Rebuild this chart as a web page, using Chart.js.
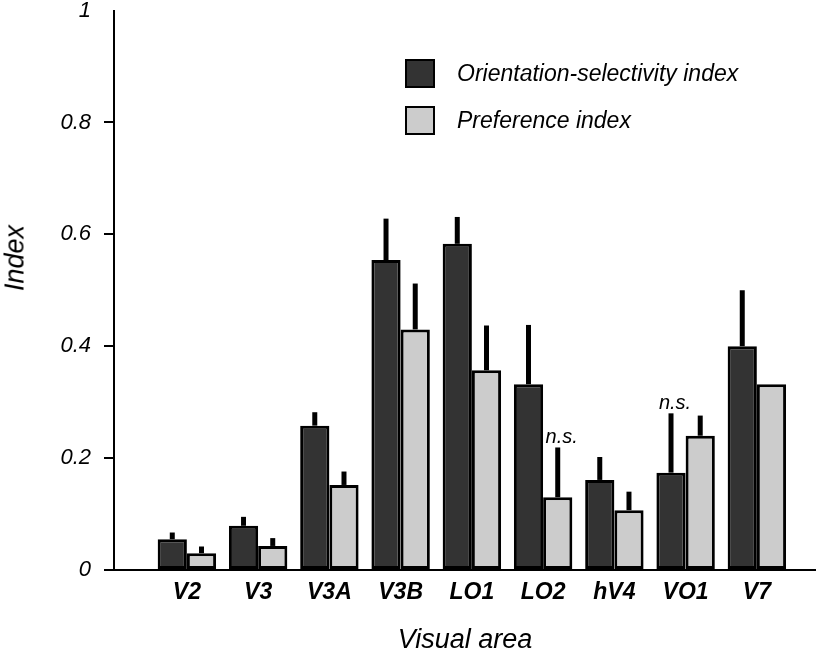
<!DOCTYPE html>
<html>
<head>
<meta charset="utf-8">
<script src="https://cdn.jsdelivr.net/npm/chart.js@4.4.0/dist/chart.umd.min.js"></script>
<style>
  html, body { margin: 0; padding: 0; background: #fff; }
  #wrap { position: relative; width: 816px; height: 654px; }
  #c { position: absolute; left: 0; top: 0; }
  #legend { position: absolute; left: 405px; top: 59px; font-family: "Liberation Sans", Arial, Helvetica, sans-serif; font-style: italic; font-size: 23px; color: #000; }
  .item { display: flex; align-items: center; height: 29px; margin-bottom: 18px; white-space: nowrap; }
  .sw { box-sizing: border-box; width: 30px; height: 29px; border: 2px solid #000; margin-right: 22px; flex: none; }
  #ytitle { position: absolute; left: 15px; top: 258px; transform: translate(-50%, -50%) rotate(-90deg); font-family: "Liberation Sans", Arial, Helvetica, sans-serif; font-style: italic; font-size: 27px; line-height: 1; color: #000; white-space: nowrap; }
</style>
</head>
<body>
<div id="wrap">
  <canvas id="c" width="816" height="654" style="width:816px;height:654px"></canvas>
  <div id="legend"></div>
  <div id="ytitle"></div>
</div>
<script>
// ---- data ----
const categories = ['V2', 'V3', 'V3A', 'V3B', 'LO1', 'LO2', 'hV4', 'VO1', 'V7'];
const seriesLabels = ['Orientation-selectivity index', 'Preference index'];
const osi    = [0.055, 0.079, 0.258, 0.554, 0.583, 0.332, 0.161, 0.174, 0.400];
const osiErr = [0.012, 0.016, 0.024, 0.074, 0.048, 0.106, 0.041, 0.106, 0.100];
const pi     = [0.030, 0.043, 0.152, 0.430, 0.357, 0.130, 0.107, 0.240, 0.332];
const piErr  = [0.012, 0.014, 0.024, 0.082, 0.080, 0.089, 0.033, 0.036, 0.000];
const yTicks = [0, 0.2, 0.4, 0.6, 0.8, 1];
const yTickLabels = ['0', '0.2', '0.4', '0.6', '0.8', '1'];
const nsLabel = 'n.s.';
const nsMarks = [{ category: 'LO2', series: 1 }, { category: 'VO1', series: 0 }];
const xTitle = 'Visual area';
const yTitle = 'Index';

const FONT = '"Liberation Sans", Arial, Helvetica, sans-serif';
const colors = ['#333333', '#cccccc'];

const errorBarPlugin = {
  id: 'errorBars',
  afterDatasetsDraw(chart) {
    const ctx = chart.ctx;
    const ys = chart.scales.y;
    ctx.save();
    ctx.strokeStyle = '#000';
    ctx.lineWidth = 5;
    ctx.lineCap = 'butt';
    chart.data.datasets.forEach((ds, di) => {
      const meta = chart.getDatasetMeta(di);
      meta.data.forEach((bar, i) => {
        const e = ds.err[i];
        if (!e) return;
        const v = ds.data[i].y;
        ctx.beginPath();
        ctx.moveTo(bar.x, bar.y);
        ctx.lineTo(bar.x, ys.getPixelForValue(v + e));
        ctx.stroke();
      });
    });
    ctx.fillStyle = '#000';
    ctx.font = 'italic 20px ' + FONT;
    ctx.textAlign = 'center';
    ctx.textBaseline = 'alphabetic';
    nsMarks.forEach(m => {
      const i = categories.indexOf(m.category);
      const ds = chart.data.datasets[m.series];
      const bar = chart.getDatasetMeta(m.series).data[i];
      const top = ys.getPixelForValue(ds.data[i].y + ds.err[i]);
      ctx.fillText(nsLabel, bar.x + 4, top - 4);
    });
    ctx.restore();
  }
};

const datasets = [
  { label: seriesLabels[0], data: categories.map((c, i) => ({ x: i + 1, y: osi[i] })), err: osiErr },
  { label: seriesLabels[1], data: categories.map((c, i) => ({ x: i + 1, y: pi[i] })), err: piErr }
].map((d, k) => Object.assign(d, {
  backgroundColor: colors[k], borderColor: '#000', borderWidth: 3, borderSkipped: false
}));

const chart = new Chart(document.getElementById('c'), {
  type: 'bar',
  data: { datasets },
  options: {
    responsive: false,
    animation: false,
    categoryPercentage: 0.82,
    barPercentage: 1,
    layout: { padding: { top: 0, right: 0, bottom: 0, left: 0 } },
    plugins: { legend: { display: false }, tooltip: { enabled: false } },
    scales: {
      x: {
        type: 'linear', min: -0.023, max: 9.83, offset: false,
        grid: { display: false, drawTicks: false, offset: false },
        border: { display: true, color: '#000', width: 2 },
        afterBuildTicks: s => { s.ticks = categories.map((c, i) => ({ value: i + 1 })); },
        ticks: {
          autoSkip: false, maxRotation: 0, minRotation: 0, padding: 9, color: '#000',
          font: { family: FONT, size: 23, style: 'italic', weight: 'bold' },
          callback: v => categories[Math.round(v) - 1] ?? ''
        },
        title: { display: true, text: xTitle, color: '#000', padding: { top: 0, bottom: 0 },
          font: { family: FONT, size: 27, style: 'italic', lineHeight: 1 } },
        afterFit: s => { s.height = 84; }
      },
      y: {
        min: 0, max: 1,
        afterBuildTicks: s => { s.ticks = yTicks.map(v => ({ value: v })); },
        ticks: { padding: 13, color: '#000', font: { family: FONT, size: 22, style: 'italic', lineHeight: 1 },
          callback: (v, i) => yTickLabels[i] },
        grid: { drawOnChartArea: false, drawTicks: true, tickLength: 10, lineWidth: 2,
          color: c => (c.tick && c.tick.value === 1) ? 'rgba(0,0,0,0)' : '#000' },
        border: { display: true, color: '#000', width: 2 },
        title: { display: false, text: yTitle },
        afterFit: s => { s.width = 114; s.paddingTop = 10.5; s.paddingBottom = 10.5; }
      }
    }
  },
  plugins: [errorBarPlugin]
});

// y-axis title (placed as text beside the axis) and HTML legend built from the datasets
document.getElementById('ytitle').textContent = chart.options.scales.y.title.text;
const lg = document.getElementById('legend');
chart.data.datasets.forEach(ds => {
  const it = document.createElement('div'); it.className = 'item';
  const sw = document.createElement('span'); sw.className = 'sw'; sw.style.background = ds.backgroundColor;
  const tx = document.createElement('span'); tx.textContent = ds.label;
  it.appendChild(sw); it.appendChild(tx); lg.appendChild(it);
});
</script>
</body>
</html>
